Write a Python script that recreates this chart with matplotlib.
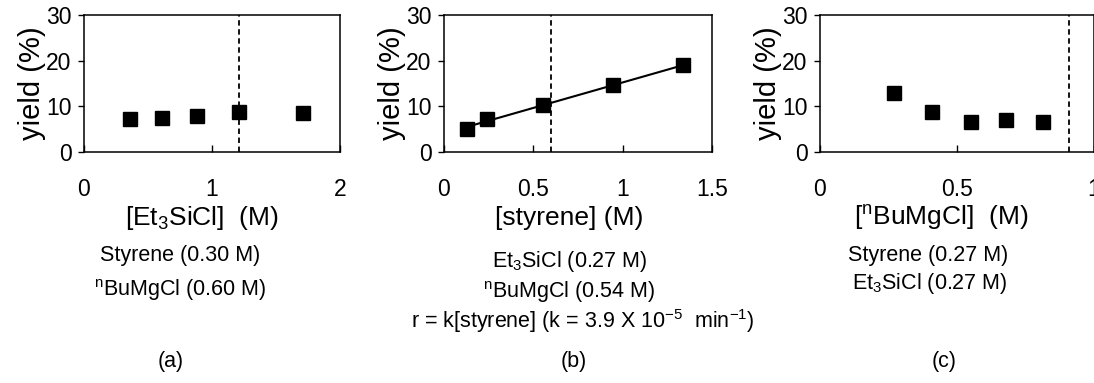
import numpy as np
import matplotlib
matplotlib.use("Agg")
import matplotlib.pyplot as plt

plt.rcParams["font.family"] = ["Liberation Sans", "DejaVu Sans"]
plt.rcParams["mathtext.fontset"] = "custom"
plt.rcParams["mathtext.rm"] = "Liberation Sans"
plt.rcParams["mathtext.it"] = "Liberation Sans"
plt.rcParams["mathtext.bf"] = "Liberation Sans"

# (a) yield vs [Et3SiCl]
a_x = [0.36, 0.61, 0.88, 1.21, 1.71]
a_y = [7.2, 7.4, 7.9, 8.8, 8.5]
a_dash = 1.21
# (b) yield vs [styrene]
b_x = [0.13, 0.24, 0.555, 0.946, 1.34]
b_y = [5.1, 7.2, 10.3, 14.6, 19.0]
b_dash = 0.60
# (c) yield vs [nBuMgCl]
c_x = [0.27, 0.41, 0.55, 0.68, 0.815]
c_y = [12.9, 8.7, 6.6, 7.1, 6.6]
c_dash = 0.91

yticks = [0, 10, 20, 30]

W, H = 1094, 383
fig = plt.figure(figsize=(W / 100, H / 100), dpi=100)


def px_axes(x0, x1, ytop, ybot):
    return fig.add_axes([x0 / W, 1 - ybot / H, (x1 - x0) / W, (ybot - ytop) / H])


def style(ax, xlim, xticks, xticklabels):
    ax.set_xlim(*xlim)
    ax.set_ylim(0, 30)
    ax.set_xticks(xticks)
    ax.set_xticklabels(xticklabels)
    ax.set_yticks(yticks)
    ax.tick_params(axis="x", direction="in", length=5, width=1, labelsize=16.5, pad=19)
    ax.tick_params(axis="y", direction="out", length=4, width=1, labelsize=16.5, pad=5)
    for s in ax.spines.values():
        s.set_linewidth(1.1)
    ax.set_ylabel("yield (%)", fontsize=21, labelpad=0)


def squares(ax, x, y):
    ax.plot(x, y, ls="none", marker="s", ms=9.5, color="black", zorder=3)


def dash(ax, x):
    ax.axvline(x, color="black", ls=(0, (3, 2)), lw=1.3)


# panel (a)
ax1 = px_axes(84, 340, 15, 152)
style(ax1, (0, 2), [0, 1, 2], ["0", "1", "2"])
squares(ax1, a_x, a_y)
dash(ax1, a_dash)

# panel (b)
ax2 = px_axes(444, 712, 15, 152)
style(ax2, (0, 1.5), [0, 0.5, 1, 1.5], ["0", "0.5", "1", "1.5"])
fit = np.polyfit(b_x, b_y, 1)
ax2.plot([b_x[0], b_x[-1]], np.polyval(fit, [b_x[0], b_x[-1]]), color="black", lw=1.5)
squares(ax2, b_x, b_y)
dash(ax2, b_dash)

# panel (c)
ax3 = px_axes(820, 1094, 15, 152)
style(ax3, (0, 1), [0, 0.5, 1], ["0", "0.5", "1"])
squares(ax3, c_x, c_y)
dash(ax3, c_dash)


def t(x, y, s, size):
    fig.text(x / W, 1 - y / H, s, fontsize=size, ha="center", va="center")


t(202, 218, r"[Et$_3$SiCl]  (M)", 19)
t(180, 255, "Styrene (0.30 M)", 15.5)
t(180, 290, r"$^\mathregular{n}$BuMgCl (0.60 M)", 15.5)
t(171, 362, "(a)", 15.5)

t(569, 218, "[styrene] (M)", 19)
t(570, 262, r"Et$_3$SiCl (0.27 M)", 15.5)
t(569, 292, r"$^\mathregular{n}$BuMgCl (0.54 M)", 15.5)
t(583, 321, r"r = k[styrene] (k = 3.9 X 10$^{-5}$  min$^{-1}$)", 15.5)
t(574, 362, "(b)", 15.5)

t(941, 218, r"[$^\mathregular{n}$BuMgCl]  (M)", 19)
t(928, 255, "Styrene (0.27 M)", 15.5)
t(930, 283, r"Et$_3$SiCl (0.27 M)", 15.5)
t(944, 362, "(c)", 15.5)

fig.savefig("out.png", dpi=100)
